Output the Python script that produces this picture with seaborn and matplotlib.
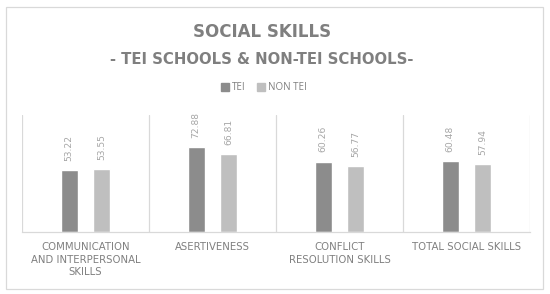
import matplotlib
matplotlib.use("Agg")
import matplotlib.pyplot as plt
import matplotlib.patches as patches
import seaborn as sns
import pandas as pd

# data
categories = ["COMMUNICATION\nAND INTERPERSONAL\nSKILLS", "ASERTIVENESS",
              "CONFLICT\nRESOLUTION SKILLS", "TOTAL SOCIAL SKILLS"]
tei = [53.22, 72.88, 60.26, 60.48]
non_tei = [53.55, 66.81, 56.77, 57.94]
groups = ["TEI", "NON TEI"]

df = pd.DataFrame({
    "category": categories * 2,
    "group": [groups[0]] * 4 + [groups[1]] * 4,
    "value": tei + non_tei,
})

sns.set_theme(style="white")
# DejaVu is wide enough to stand in for the letter-spaced Excel text
plt.rcParams["font.family"] = ["DejaVu Sans"]

fig = plt.figure(figsize=(5.5, 2.94), dpi=100)
ax = fig.add_axes([0.04, 0.2109, 0.9236, 0.3979])

palette = {"TEI": "#8c8c8c", "NON TEI": "#bfbfbf"}
sns.barplot(data=df, x="category", y="value", hue="group", order=categories,
            hue_order=groups, palette=palette, width=0.516, gap=0.48,
            saturation=1, ax=ax, legend=False)

# value labels
for cont in ax.containers:
    ax.bar_label(cont, fmt="%.2f", rotation=90, padding=6.5, fontsize=6.6,
                 color="#a6a6a6")

ax.set_ylim(0, 100)
ax.set_xlim(-0.5, 3.5)
ax.set_xlabel("")
ax.set_ylabel("")
ax.set_yticks([])
ax.set_xticks(range(len(categories)))
ax.set_xticklabels(categories, fontsize=7.3, color="#7f7f7f", linespacing=1.3)
ax.tick_params(axis="x", length=0, pad=7.5)

# category separators
ax.set_xticks([-0.5, 0.5, 1.5, 2.5, 3.5], minor=True)
ax.tick_params(axis="x", which="minor", length=0)
ax.grid(True, axis="x", which="minor", color="#d9d9d9", linewidth=0.9)
ax.grid(False, axis="x", which="major")

for side in ["top", "right", "left"]:
    ax.spines[side].set_visible(False)
ax.spines["bottom"].set_color("#d9d9d9")
ax.spines["bottom"].set_linewidth(0.9)

# titles
title_x = 262 / 550
fig.text(title_x, 1 - 32 / 294, "SOCIAL SKILLS", ha="center", va="center",
         fontsize=12, fontweight="bold", color="#7f7f7f")
fig.text(title_x, 1 - 60 / 294, "- TEI SCHOOLS & NON-TEI SCHOOLS-", ha="center",
         va="center", fontsize=10.7, fontweight="bold", color="#7f7f7f")

# legend
handles = [patches.Patch(color=palette[g], label=g) for g in groups]
fig.legend(handles=handles, loc="center", bbox_to_anchor=(0.48, 1 - 88 / 294),
           ncol=2, frameon=False, handlelength=0.8, handleheight=0.8,
           handletextpad=0.3, columnspacing=1.2, labelcolor="#7f7f7f",
           prop={"family": ["Open Sans", "DejaVu Sans"], "size": 7})

# outer chart border
fig.patches.append(patches.Rectangle((6 / 550, 5 / 294), 537 / 550, 282 / 294,
                                     transform=fig.transFigure, fill=False,
                                     edgecolor="#d9d9d9", linewidth=0.9))

fig.savefig("out.png", dpi=100)
